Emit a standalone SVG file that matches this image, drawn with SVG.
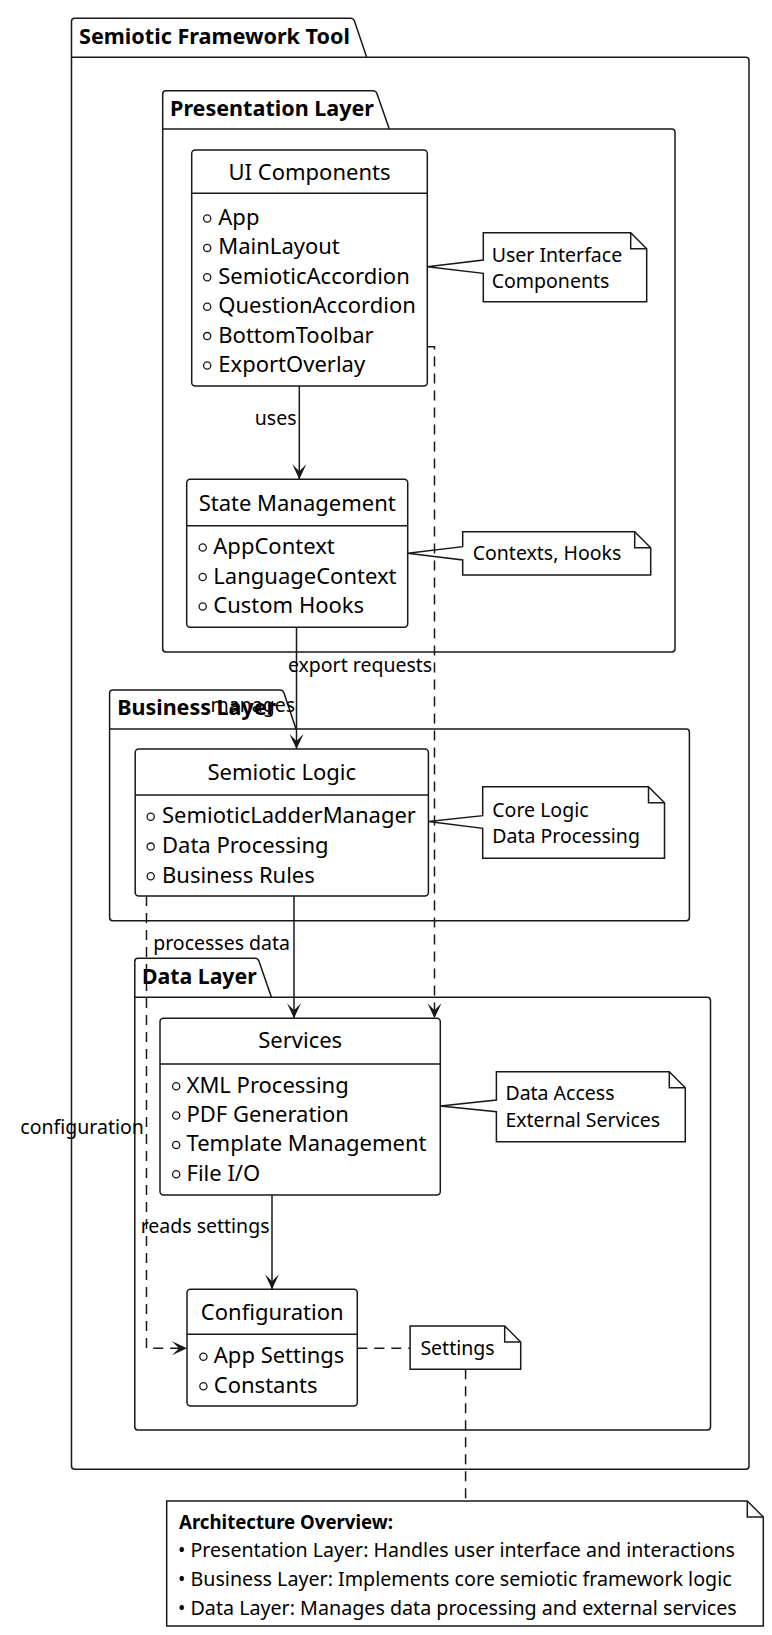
<svg xmlns="http://www.w3.org/2000/svg" width="772" height="1635" viewBox="0 0 772 1635">
<defs>
<style>
.pkg{fill:#ffffff;stroke:#181818;stroke-width:1.5}
.ln{fill:none;stroke:#181818;stroke-width:1.5}
.cls{fill:#ffffff;stroke:#181818;stroke-width:1.5}
.note{fill:#ffffff;stroke:#181818;stroke-width:1.5}
.edge{fill:none;stroke:#181818;stroke-width:1.5}
.dash{stroke-dasharray:10,7}
.pt{font-family:"Noto Sans","DejaVu Sans",sans-serif;font-size:21.5px;font-weight:bold;fill:#000}
.ct{font-family:"Noto Sans","DejaVu Sans",sans-serif;font-size:22px;fill:#000;text-anchor:middle}
.it{font-family:"Noto Sans","DejaVu Sans",sans-serif;font-size:22px;fill:#000}
.nt{font-family:"Noto Sans","DejaVu Sans",sans-serif;font-size:19.5px;fill:#000}
.nb{font-family:"Noto Sans","DejaVu Sans",sans-serif;font-size:19.5px;font-weight:bold;fill:#000}
.lb{font-family:"Noto Sans","DejaVu Sans",sans-serif;font-size:19.5px;fill:#000}
.dot{fill:none;stroke:#181818;stroke-width:1.3}
</style>
<marker id="arr" markerUnits="userSpaceOnUse" orient="auto" refX="0" refY="0" markerWidth="20" markerHeight="20" overflow="visible">
<path d="M0,0 L-15,-7 L-8,0 L-15,7 Z" fill="#181818" stroke="none"/>
</marker>
</defs>
<rect width="772" height="1635" fill="#ffffff"/>

<g id="pkg-semiotic-framework-tool">
<path class="pkg" d="M71.5,21.5 Q71.5,18.3 74.7,18.3 L350.5,18.3 Q353.5,18.3 354.5,21.3 L366.7,57.3 L745.8,57.3 Q749,57.3 749,60.5 L749,1466.1 Q749,1469.3 745.8,1469.3 L74.7,1469.3 Q71.5,1469.3 71.5,1466.1 Z"/>
<path class="ln" d="M71.5,57.3 L366.7,57.3"/>
<text class="pt" x="79" y="44" textLength="271" lengthAdjust="spacingAndGlyphs">Semiotic Framework Tool</text>
</g>

<g id="pkg-presentation-layer">
<path class="pkg" d="M162.7,93.9 Q162.7,90.7 165.9,90.7 L373,90.7 Q376,90.7 377,93.7 L389.3,129 L671.8,129 Q675,129 675,132.2 L675,648.8 Q675,652 671.8,652 L165.9,652 Q162.7,652 162.7,648.8 Z"/>
<path class="ln" d="M162.7,129 L389.3,129"/>
<text class="pt" x="170" y="116" textLength="204" lengthAdjust="spacingAndGlyphs">Presentation Layer</text>
</g>

<g id="pkg-business-layer">
<path class="pkg" d="M109.6,693.2 Q109.6,690 112.8,690 L280,690 Q283,690 284,693 L296,729 L686.2,729 Q689.4,729 689.4,732.2 L689.4,917.5 Q689.4,920.7 686.2,920.7 L112.8,920.7 Q109.6,920.7 109.6,917.5 Z"/>
<path class="ln" d="M109.6,729 L296,729"/>
<text class="pt" x="117.2" y="715" textLength="159" lengthAdjust="spacingAndGlyphs">Business Layer</text>
</g>

<g id="pkg-data-layer">
<path class="pkg" d="M134.8,961.5 Q134.8,958.3 138,958.3 L255,958.3 Q258,958.3 259,961.3 L271.4,997.3 L707.3,997.3 Q710.5,997.3 710.5,1000.5 L710.5,1426.8 Q710.5,1430 707.3,1430 L138,1430 Q134.8,1430 134.8,1426.8 Z"/>
<path class="ln" d="M134.8,997.3 L271.4,997.3"/>
<text class="pt" x="142" y="984" textLength="114.7" lengthAdjust="spacingAndGlyphs">Data Layer</text>
</g>

<g id="ui-components">
<rect class="cls" x="191.7" y="150" width="235.6" height="236" rx="3.5"/>
<path class="ln" d="M191.7,193.3 L427.3,193.3"/>
<text class="ct" x="309.5" y="180">UI Components</text>
<circle class="dot" cx="207.2" cy="218.5" r="3.6"/><text class="it" x="218.3" y="225">App</text>
<circle class="dot" cx="207.2" cy="247.9" r="3.6"/><text class="it" x="218.3" y="254.4">MainLayout</text>
<circle class="dot" cx="207.2" cy="277.3" r="3.6"/><text class="it" x="218.3" y="283.8">SemioticAccordion</text>
<circle class="dot" cx="207.2" cy="306.7" r="3.6"/><text class="it" x="218.3" y="313.2">QuestionAccordion</text>
<circle class="dot" cx="207.2" cy="336.1" r="3.6"/><text class="it" x="218.3" y="342.6">BottomToolbar</text>
<circle class="dot" cx="207.2" cy="365.5" r="3.6"/><text class="it" x="218.3" y="372">ExportOverlay</text>
</g>

<g id="state-management">
<rect class="cls" x="186.7" y="479.3" width="221" height="148" rx="3.5"/>
<path class="ln" d="M186.7,525.7 L407.7,525.7"/>
<text class="ct" x="297.2" y="510.7">State Management</text>
<circle class="dot" cx="202.7" cy="547.5" r="3.6"/><text class="it" x="213.3" y="554">AppContext</text>
<circle class="dot" cx="202.7" cy="577" r="3.6"/><text class="it" x="213.3" y="583.5">LanguageContext</text>
<circle class="dot" cx="202.7" cy="606.5" r="3.6"/><text class="it" x="213.3" y="613">Custom Hooks</text>
</g>

<g id="semiotic-logic">
<rect class="cls" x="135.2" y="749" width="293.2" height="147" rx="3.5"/>
<path class="ln" d="M135.2,795 L428.4,795"/>
<text class="ct" x="281.8" y="780">Semiotic Logic</text>
<circle class="dot" cx="150.7" cy="816.8" r="3.6"/><text class="it" x="162" y="823.3">SemioticLadderManager</text>
<circle class="dot" cx="150.7" cy="846.6" r="3.6"/><text class="it" x="162" y="853.1">Data Processing</text>
<circle class="dot" cx="150.7" cy="876.2" r="3.6"/><text class="it" x="162" y="882.7">Business Rules</text>
</g>

<g id="services">
<rect class="cls" x="160" y="1018.3" width="280.3" height="176.7" rx="3.5"/>
<path class="ln" d="M160,1064 L440.3,1064"/>
<text class="ct" x="300.2" y="1048.3">Services</text>
<circle class="dot" cx="176.2" cy="1086.2" r="3.6"/><text class="it" x="186.5" y="1092.7">XML Processing</text>
<circle class="dot" cx="176.2" cy="1115.5" r="3.6"/><text class="it" x="186.5" y="1122">PDF Generation</text>
<circle class="dot" cx="176.2" cy="1144.9" r="3.6"/><text class="it" x="186.5" y="1151.4">Template Management</text>
<circle class="dot" cx="176.2" cy="1174.2" r="3.6"/><text class="it" x="186.5" y="1180.7">File I/O</text>
</g>

<g id="configuration">
<rect class="cls" x="187" y="1289.3" width="170.3" height="116.7" rx="3.5"/>
<path class="ln" d="M187,1334.3 L357.3,1334.3"/>
<text class="ct" x="272.2" y="1320">Configuration</text>
<circle class="dot" cx="203.4" cy="1356.8" r="3.6"/><text class="it" x="213.8" y="1363.3">App Settings</text>
<circle class="dot" cx="203.4" cy="1386.2" r="3.6"/><text class="it" x="213.8" y="1392.7">Constants</text>
</g>

<g id="note-ui">
<path class="note" d="M483.3,232.7 L630.7,232.7 L646.7,248.7 L646.7,301.7 L483.3,301.7 L483.3,273.3 L427.3,266.7 L483.3,260 Z"/>
<path class="ln" d="M630.7,232.7 L630.7,248.7 L646.7,248.7"/>
<text class="nt" x="491.7" y="261.7">User Interface</text>
<text class="nt" x="491.7" y="288.3">Components</text>
</g>

<g id="note-state">
<path class="note" d="M462.7,531.7 L634.7,531.7 L650.7,547.7 L650.7,575 L462.7,575 L462.7,560 L407.7,553.3 L462.7,546.7 Z"/>
<path class="ln" d="M634.7,531.7 L634.7,547.7 L650.7,547.7"/>
<text class="nt" x="472.7" y="560">Contexts, Hooks</text>
</g>

<g id="note-logic">
<path class="note" d="M482.7,786.7 L648.5,786.7 L664.5,802.7 L664.5,858.3 L482.7,858.3 L482.7,828.3 L428.4,821.5 L482.7,815.7 Z"/>
<path class="ln" d="M648.5,786.7 L648.5,802.7 L664.5,802.7"/>
<text class="nt" x="492.3" y="816.7">Core Logic</text>
<text class="nt" x="492.3" y="843.3">Data Processing</text>
</g>

<g id="note-services">
<path class="note" d="M496.4,1071.7 L669.3,1071.7 L685.3,1087.7 L685.3,1141.7 L496.4,1141.7 L496.4,1111.7 L440.3,1106 L496.4,1100 Z"/>
<path class="ln" d="M669.3,1071.7 L669.3,1087.7 L685.3,1087.7"/>
<text class="nt" x="505.4" y="1100">Data Access</text>
<text class="nt" x="505.4" y="1126.7">External Services</text>
</g>

<g id="note-settings">
<path class="note" d="M410.1,1326 L504.7,1326 L520.7,1342 L520.7,1369.3 L410.1,1369.3 Z"/>
<path class="ln" d="M504.7,1326 L504.7,1342 L520.7,1342"/>
<text class="nt" x="420.4" y="1355">Settings</text>
</g>

<g id="note-overview">
<path class="note" d="M166.7,1501 L747.3,1501 L763.3,1517 L763.3,1626 L166.7,1626 Z"/>
<path class="ln" d="M747.3,1501 L747.3,1517 L763.3,1517"/>
<text class="nb" x="179" y="1529.3" textLength="214" lengthAdjust="spacingAndGlyphs">Architecture Overview:</text>
<text class="nt" x="178" y="1557" textLength="557" lengthAdjust="spacingAndGlyphs">• Presentation Layer: Handles user interface and interactions</text>
<text class="nt" x="178" y="1586" textLength="553.7" lengthAdjust="spacingAndGlyphs">• Business Layer: Implements core semiotic framework logic</text>
<text class="nt" x="178" y="1615" textLength="558.7" lengthAdjust="spacingAndGlyphs">• Data Layer: Manages data processing and external services</text>
</g>

<g id="connectors">
<path class="edge" d="M299.3,386 L299.3,479.3" marker-end="url(#arr)"/>
<text class="lb" x="296.5" y="425" text-anchor="end">uses</text>
<path class="edge" d="M296.5,627.3 L296.5,749" marker-end="url(#arr)"/>
<text class="lb" x="295" y="711.7" text-anchor="end">manages</text>
<path class="edge" d="M294,896 L294,1018.3" marker-end="url(#arr)"/>
<text class="lb" x="290" y="950" text-anchor="end">processes data</text>
<path class="edge" d="M272,1195 L272,1289.3" marker-end="url(#arr)"/>
<text class="lb" x="269.5" y="1233.3" text-anchor="end">reads settings</text>
<path class="edge dash" d="M427.3,346.7 L434.5,346.7 L434.5,1018.3" marker-end="url(#arr)"/>
<text class="lb" x="432.2" y="671.7" text-anchor="end">export requests</text>
<path class="edge dash" d="M146.5,896 L146.5,1348.3 L187,1348.3" marker-end="url(#arr)"/>
<text class="lb" x="143.8" y="1134" text-anchor="end">configuration</text>
<path class="edge dash" d="M357.3,1348.3 L410.1,1348.3"/>
<path class="edge dash" d="M465.6,1369.3 L465.6,1501"/>
</g>
</svg>
